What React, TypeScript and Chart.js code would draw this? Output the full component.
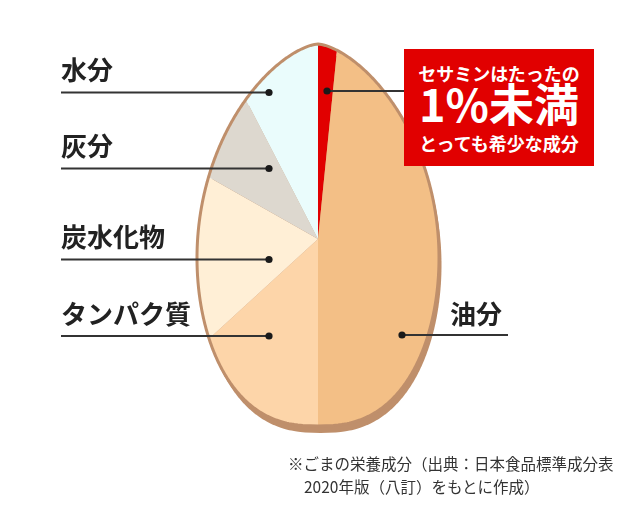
import React, { useEffect, useRef } from "react";
import { Chart, registerables } from "chart.js";

Chart.register(...registerables);

// Composition of sesame seeds, share of each component (%)
const categories = ["セサミン", "油分", "タンパク質", "炭水化物", "灰分", "水分"];
const shares = [1.6, 48.4, 13.2, 20.0, 9.2, 7.6];
const sliceColors = ["#e10000", "#f3bf86", "#fdd5a9", "#ffefd6", "#ddd8cf", "#eafcfc"];

// Left-hand callouts: label, y of the leader line
const leftLabels = ["水分", "灰分", "炭水化物", "タンパク質"];
const leftLineY = [92.5, 168.5, 259.5, 336];

// Seed outline geometry
const CX = 318;
const SEED_TOP = 44;
const SEED_BOTTOM = 426;
const SEED_WIDEST_Y = 258;
const SEED_HALF_WIDTH = 121;
const OUTLINE = "#bf8f6b";
const INK = "#222222";

function seedHalfWidth(y: number): number {
  if (y <= SEED_WIDEST_Y) {
    const r = Math.min(1, (SEED_WIDEST_Y - y) / (SEED_WIDEST_Y - SEED_TOP));
    return SEED_HALF_WIDTH * Math.pow(Math.max(0, 1 - r * r), 0.65);
  }
  const r = Math.min(1, (y - SEED_WIDEST_Y) / (SEED_BOTTOM - SEED_WIDEST_Y));
  return SEED_HALF_WIDTH * Math.pow(Math.max(0, 1 - r * r), 0.4);
}

function seedPath(ctx: CanvasRenderingContext2D, dx = 0, dy = 0) {
  const n = 800;
  ctx.beginPath();
  for (let i = 0; i <= n; i++) {
    const y = SEED_TOP + ((SEED_BOTTOM - SEED_TOP) * i) / n;
    ctx.lineTo(CX + seedHalfWidth(y) + dx, y + dy);
  }
  for (let i = n; i >= 0; i--) {
    const y = SEED_TOP + ((SEED_BOTTOM - SEED_TOP) * i) / n;
    ctx.lineTo(CX - seedHalfWidth(y) + dx, y + dy);
  }
  ctx.closePath();
}

const seedPlugin = {
  id: "seedShape",
  beforeDatasetsDraw(chart: any) {
    const ctx: CanvasRenderingContext2D = chart.ctx;
    ctx.save();
    ctx.fillStyle = OUTLINE;
    seedPath(ctx, 2.5, 7);
    ctx.fill();
    ctx.restore();
    ctx.save();
    seedPath(ctx);
    ctx.clip();
  },
  afterDatasetsDraw(chart: any) {
    const ctx: CanvasRenderingContext2D = chart.ctx;
    ctx.restore();
    ctx.save();
    ctx.strokeStyle = OUTLINE;
    ctx.lineWidth = 3;
    seedPath(ctx);
    ctx.stroke();
    ctx.restore();
  },
  afterDraw(chart: any) {
    const ctx: CanvasRenderingContext2D = chart.ctx;
    ctx.save();
    ctx.strokeStyle = "#333333";
    ctx.fillStyle = "#1a1a1a";
    ctx.lineWidth = 2;
    // leader line from a dot inside a slice out to its label
    const leader = (dotX: number, endX: number, y: number) => {
      ctx.beginPath();
      ctx.moveTo(dotX, y);
      ctx.lineTo(endX, y);
      ctx.stroke();
      ctx.beginPath();
      ctx.arc(dotX, y, 3.6, 0, Math.PI * 2);
      ctx.fill();
    };
    leftLineY.forEach((y) => leader(269, 61, y));
    leader(402, 508, 335);
    leader(327, 405, 91);
    ctx.restore();
  },
};

export default function App() {
  const canvasRef = useRef<HTMLCanvasElement | null>(null);

  useEffect(() => {
    if (!canvasRef.current) return;
    const chart = new Chart(canvasRef.current, {
      type: "pie",
      data: {
        labels: categories,
        datasets: [
          {
            data: shares,
            backgroundColor: sliceColors,
            borderWidth: 0,
            hoverOffset: 0,
          },
        ],
      },
      options: {
        responsive: false,
        animation: false,
        events: [],
        layout: { padding: { left: 118, right: 122, top: 39, bottom: 67 } },
        plugins: { legend: { display: false }, tooltip: { enabled: false } },
      },
      plugins: [seedPlugin],
    });
    return () => chart.destroy();
  }, []);

  const jp = '"Noto Sans CJK JP", "Noto Sans", sans-serif';
  const labelStyle: React.CSSProperties = {
    position: "absolute",
    fontFamily: jp,
    fontSize: 26,
    fontWeight: 700,
    lineHeight: 1,
    color: INK,
    whiteSpace: "nowrap",
  };

  return (
    <div style={{ position: "absolute", left: 0, top: 0, width: 640, height: 506, background: "#fff" }}>
      <canvas ref={canvasRef} width={640} height={506} style={{ position: "absolute", left: 0, top: 0 }} />
      {leftLabels.map((t, i) => (
        <div key={t} style={{ ...labelStyle, left: 61, top: leftLineY[i] - 36.5 }}>
          {t}
        </div>
      ))}
      <div style={{ ...labelStyle, left: 450, top: 335 - 35 }}>油分</div>

      <div
        style={{
          position: "absolute",
          left: 404,
          top: 49,
          width: 190,
          height: 117,
          background: "#e10000",
          color: "#fff",
          fontFamily: jp,
          fontWeight: 700,
        }}
      >
        <div style={{ position: "absolute", left: 0, width: 190, top: 14.5, textAlign: "center", fontSize: 18, lineHeight: 1 }}>
          セサミンはたったの
        </div>
        <div style={{ position: "absolute", left: 0, width: 190, top: 30.5, textAlign: "center", fontSize: 45, lineHeight: 1 }}>
          1%未満
        </div>
        <div style={{ position: "absolute", left: 0, width: 190, top: 84.5, textAlign: "center", fontSize: 18, lineHeight: 1 }}>
          とっても希少な成分
        </div>
      </div>

      <div
        style={{
          position: "absolute",
          left: 288,
          top: 452,
          fontFamily: jp,
          fontSize: 15.5,
          lineHeight: "23px",
          color: "#333",
          whiteSpace: "nowrap",
        }}
      >
        <div>※ごまの栄養成分（出典：日本食品標準成分表</div>
        <div style={{ paddingLeft: 16 }}>2020年版（八訂）をもとに作成）</div>
      </div>
    </div>
  );
}
